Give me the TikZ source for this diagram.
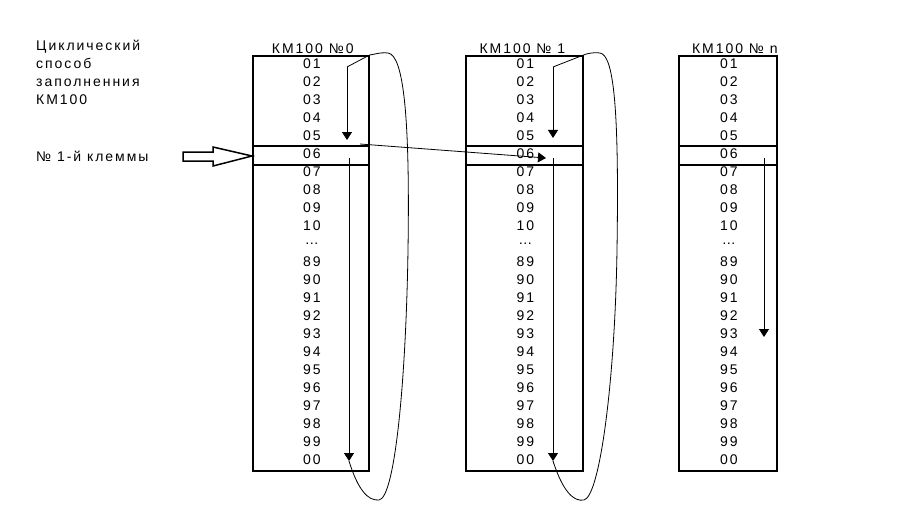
\documentclass[tikz,border=0pt]{standalone}
\usepackage{fontspec}
\setmainfont[LetterSpace=14]{Liberation Sans}
\usetikzlibrary{arrows.meta,positioning,calc}

\begin{document}
\begin{tikzpicture}[x=1pt, y=-1pt, >={Triangle[length=8pt,width=10pt]},
	   font=\fontsize{14}{18}\selectfont,
	   box/.style={draw, line width=1.6pt, minimum height=415pt, inner sep=0pt, anchor=north west},
	   num/.style={inner sep=0pt, anchor=center},
	   run/.style={->, line width=0.8pt},
	   loopline/.style={line width=0.8pt}]
	  \useasboundingbox (0,0) rectangle (914,519);
	  % KM100 blocks
	  \node[box, minimum width=116pt] (box0) at (252,55) {};
	  \node[box, minimum width=117pt] (box1) at (465,55) {};
	  \node[box, minimum width=98pt] (boxn) at (678,55) {};
	  \node[anchor=south, inner sep=1.5pt] (t0) at ($(box0.north)+(2,0)$) {КМ100 №0};
	  \node[anchor=south, inner sep=1.5pt] (t1) at ($(box1.north)+(-2,0)$) {КМ100 № 1};
	  \node[anchor=south, inner sep=1.5pt] (tn) at ($(boxn.north)+(7,0)$) {КМ100 № n};
	  % rows and the 06 band
	  \foreach \b in {box0,box1,boxn}{
	    \draw[line width=1.6pt] (\b.west |- 0,146) -- (\b.east |- 0,146);
	    \draw[line width=1.6pt] (\b.west |- 0,165) -- (\b.east |- 0,165);
	    \foreach \t [count=\i] in {01,02,03,04,05,06,07,08,09,10,\ldots,89,90,91,92,93,94,95,96,97,98,99,00}
	      \node[num] (\b-\i) at ($(\b.north)+(1,9+18*\i-18)$) {\t};
	  }
	  % left notes
	  \node[anchor=north west, align=left, inner sep=0pt] (note) at (36,40) {Циклический\\способ\\заполненния\\КМ100};
	  \node[anchor=west, inner sep=0pt] (first) at (36,156) {№ 1-й клеммы};
	  \draw[line width=1.5pt] (183,152) -- (213,152) -- (213,147) -- (box0.west |- 0,156) -- (213,166) -- (213,161) -- (183,161) -- cycle;
	  % filling order
	  \coordinate (a0) at (347,67);  \coordinate (b0) at (347,140);
	  \coordinate (c0) at (349,158); \coordinate (d0) at (349,461);
	  \coordinate (a1) at (553,67);  \coordinate (b1) at (553,138);
	  \coordinate (c1) at (553,158); \coordinate (d1) at (553,461);
	  \coordinate (cn) at (764,158); \coordinate (dn) at (764,337);
	  \coordinate (x0) at (360,144); \coordinate (x1) at (546,158);
	  \draw[loopline] (box0.north east) -- (a0);
	  \draw[run] (a0) -- (b0);
	  \draw[run] (c0) -- (d0);
	  \draw[loopline] (d0) .. controls (358,490) and (368,501) .. (379,500)
	     .. controls (395,498) and (406,380) .. (408,250)
	     .. controls (410,120) and (404,55) .. (388,53)
	     .. controls (380,52) and (372,55) .. (box0.north east);
	  \draw[run] (x0) -- (x1);
	  \draw[loopline] (box1.north east) -- (a1);
	  \draw[run] (a1) -- (b1);
	  \draw[run] (c1) -- (d1);
	  \draw[loopline] (d1) .. controls (563,492) and (574,502) .. (584,500)
	     .. controls (600,496) and (615,380) .. (617,250)
	     .. controls (619,120) and (615,55) .. (600,53)
	     .. controls (592,52) and (586,54) .. (box1.north east);
	  \draw[run] (cn) -- (dn);
	\end{tikzpicture}
\end{document}
